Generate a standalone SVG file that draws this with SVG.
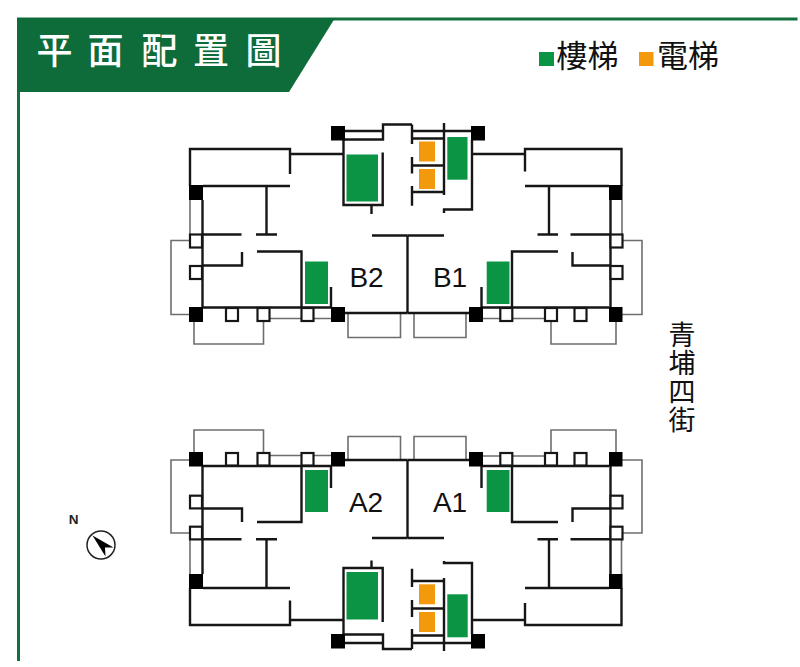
<svg xmlns="http://www.w3.org/2000/svg" width="800" height="667" viewBox="0 0 800 667">
<style>
.w{fill:none;stroke:#161616;stroke-width:2.4}
.g{fill:none;stroke:#6e6e6e;stroke-width:1.6}
.k{fill:#000}
.o{fill:#fff;stroke:#161616;stroke-width:2.2}
.st{fill:#0b9444}
.el{fill:#f39a0c}
.lb{font-family:"Liberation Sans",Arial,sans-serif;font-size:28px;fill:#111;text-anchor:middle}
.cj{font-family:"Noto Sans CJK TC","Noto Sans CJK JP",sans-serif;fill:#111;text-anchor:middle}
.ti{font-family:"Noto Sans CJK TC","Noto Sans CJK JP",sans-serif;fill:#fff;text-anchor:middle;font-size:36px;font-weight:500}
</style>
<rect width="800" height="667" fill="#fff"/>
<g id="header">
<path d="M17 17.5H797.500V20.500H20V661H17Z" fill="#12713f"/>
<path d="M17 18H335L289 92H17Z" fill="#0e6b3a"/>
<text class="ti" x="54.500" y="64">平</text>
<text class="ti" x="105.500" y="64">面</text>
<text class="ti" x="159.500" y="64">配</text>
<text class="ti" x="211" y="64">置</text>
<text class="ti" x="263.500" y="64">圖</text>
</g>
<g id="legend">
<rect class="st" x="539" y="52" width="15" height="14"/>
<text class="cj" x="587.500" y="66.500" font-size="31">樓梯</text>
<rect class="el" x="639" y="52" width="14.500" height="14"/>
<text class="cj" x="688" y="66.500" font-size="31">電梯</text>
</g>
<g id="street">
<text class="cj" x="682" y="321" font-size="27" letter-spacing="1.500" style="writing-mode:vertical-rl;text-anchor:start">青埔四街</text>
</g>
<g id="compass">
<text x="73.500" y="524" font-family="'Liberation Sans',Arial,sans-serif" font-size="13.500" font-weight="bold" fill="#222" text-anchor="middle">N</text>
<circle cx="101" cy="545" r="14" fill="#fff" stroke="#222" stroke-width="1.500"/>
<path d="M92.500 535.500L113.500 547.500L105 547.500L105.500 556.500Z" fill="#000"/>
</g>
<g id="unit-B2">
<path class="g" d="M190 200V234M190 240.500H171V314.500H190M194 322V344H263.500V321M269 318.500H331M348 314V337.500H400.500V314"/>
<path class="w" d="M190 186V149H290V174M290 154H343.500M343.500 126V205H382.700V152.500M371.500 205V214M344 131H383V124.500H412M344 139.500H383V124.500M203 186H290M266.500 186V234.500M256 234.500H277M203 234.500H241.500M202.500 200V307M257 251.500H301.500V307M242 252V265.500H203M203 307.500H331M331 287V307M345 313H407.500M407.500 235.500V313M372 235.500H407.500"/>
<rect class="st" x="305" y="261.500" width="23" height="42.500"/>
<rect class="k" x="189" y="185" width="14" height="15"/>
<rect class="k" x="189" y="307" width="14" height="15"/>
<rect class="k" x="331" y="126" width="14" height="14.500"/>
<rect class="k" x="331" y="307" width="14" height="15"/>
<rect class="o" x="190" y="234.500" width="12" height="13"/>
<rect class="o" x="190" y="266" width="12" height="13"/>
<rect class="o" x="226" y="308" width="12" height="13"/>
<rect class="o" x="257.500" y="308" width="12" height="13"/>
<rect class="o" x="301.500" y="308" width="12" height="13"/>
<rect class="st" x="346.500" y="154.500" width="31.500" height="47"/>
<text class="lb" x="366.500" y="287">B2</text>
</g>
<g id="unit-B1">
<path class="g" d="M622 200V234M622 240.500H642V314.500H622M551 321V344H616V322M482 318.500H545M414 314V337.500H466V314"/>
<path class="w" d="M621.500 186V149H525V171.500M525 154H472M472 140V209.500H444V213M412 131H471M412 138.500H444M444 123V195M412 165.500H444M412 192H444M412 124.500V144M412 157V173.500M412 186V205.700M525 186H609M549 186V234.500M537.500 234.500H558M570.500 234.500H610M610.500 200V307M558 251.500H512V307M572.500 252V265.500H610M482 307.500H609M481.500 287V307M407.500 313H470M407.500 235.500H444"/>
<rect class="el" x="419" y="141.500" width="16" height="20"/>
<rect class="el" x="419" y="169" width="16" height="20"/>
<rect class="st" x="447.300" y="137" width="20.200" height="42.700"/>
<rect class="st" x="486.700" y="261.500" width="22.800" height="42.500"/>
<rect class="k" x="471" y="126" width="14" height="14.500"/>
<rect class="k" x="609" y="185" width="13.500" height="15"/>
<rect class="k" x="609" y="307" width="13.500" height="15"/>
<rect class="k" x="469" y="307" width="14" height="15"/>
<rect class="o" x="610.500" y="234.500" width="12" height="13"/>
<rect class="o" x="610.500" y="266" width="12" height="13"/>
<rect class="o" x="500.300" y="308" width="12" height="13"/>
<rect class="o" x="545" y="308" width="12" height="13"/>
<rect class="o" x="574.500" y="308" width="12" height="13"/>
<text class="lb" x="450" y="287">B1</text>
</g>
<g id="unit-A2">
<path class="g" d="M190 539V574M190 460H171V533H190M194 452V430H263.500V453M269 455.500H331M348 460V436.500H400.500V460"/>
<path class="w" d="M190 588V625H290V600.500M290 620H343.500M343.500 640V568H382.700V622M371.500 568V560.500M344 634.500H383V649H412M344 643H383M203 588H290M266.500 588V539.300M256 539.300H277M203 539.300H241.500M202.500 466V574M257 522H301.500V466M242 522V508.500H203M203 466H331M331 466V488M345 460H407.500M407.500 460V538M372 538H407.500"/>
<rect class="st" x="305" y="470" width="23" height="42"/>
<rect class="k" x="189" y="452" width="14" height="14.500"/>
<rect class="k" x="189" y="574" width="14" height="15"/>
<rect class="k" x="331" y="452" width="14" height="14.500"/>
<rect class="k" x="331" y="634" width="14" height="14.500"/>
<rect class="o" x="190" y="495.700" width="12" height="12.700"/>
<rect class="o" x="190" y="526.700" width="12" height="12.700"/>
<rect class="o" x="226" y="453" width="12" height="12.500"/>
<rect class="o" x="257.500" y="453" width="12" height="12.500"/>
<rect class="o" x="301.500" y="453" width="12" height="12.500"/>
<rect class="st" x="346.500" y="572" width="31.500" height="47.500"/>
<text class="lb" x="366" y="512">A2</text>
</g>
<g id="unit-A1">
<path class="g" d="M621.500 539V574M622 460H642V533H622M551 453V430H616V452M482 456H545M414 460V436.500H466V460"/>
<path class="w" d="M621.500 588V625H525V603M525 620H472M472 634V563H444V561M412 643H471M412 635.500H444M444 578V651M412 581H444M412 608.500H444M412 568.700V587M412 600V617M412 629V649M525 588H609M549 588V539.300M537.500 539.300H558M570.500 539.300H610M610.500 466V574M558 522H512V466M572.500 522V508.500H610M482 466H609M481.500 466V488M407.500 460H470M407.500 538H444"/>
<rect class="el" x="419" y="584.300" width="16" height="20"/>
<rect class="el" x="419" y="612" width="16" height="20"/>
<rect class="st" x="447.300" y="594.300" width="20.400" height="43"/>
<rect class="st" x="486.700" y="470" width="22.800" height="42"/>
<rect class="k" x="469" y="452" width="14" height="14.500"/>
<rect class="k" x="609" y="452" width="13.500" height="14.500"/>
<rect class="k" x="609" y="574" width="13.500" height="15"/>
<rect class="k" x="471" y="634" width="14" height="14.500"/>
<rect class="o" x="610.500" y="495.700" width="12" height="12.700"/>
<rect class="o" x="610.500" y="526.700" width="12" height="12.700"/>
<rect class="o" x="500.300" y="453" width="12" height="12.500"/>
<rect class="o" x="545" y="453" width="12" height="12.500"/>
<rect class="o" x="574.500" y="453" width="12" height="12.500"/>
<text class="lb" x="450" y="512">A1</text>
</g>
</svg>
